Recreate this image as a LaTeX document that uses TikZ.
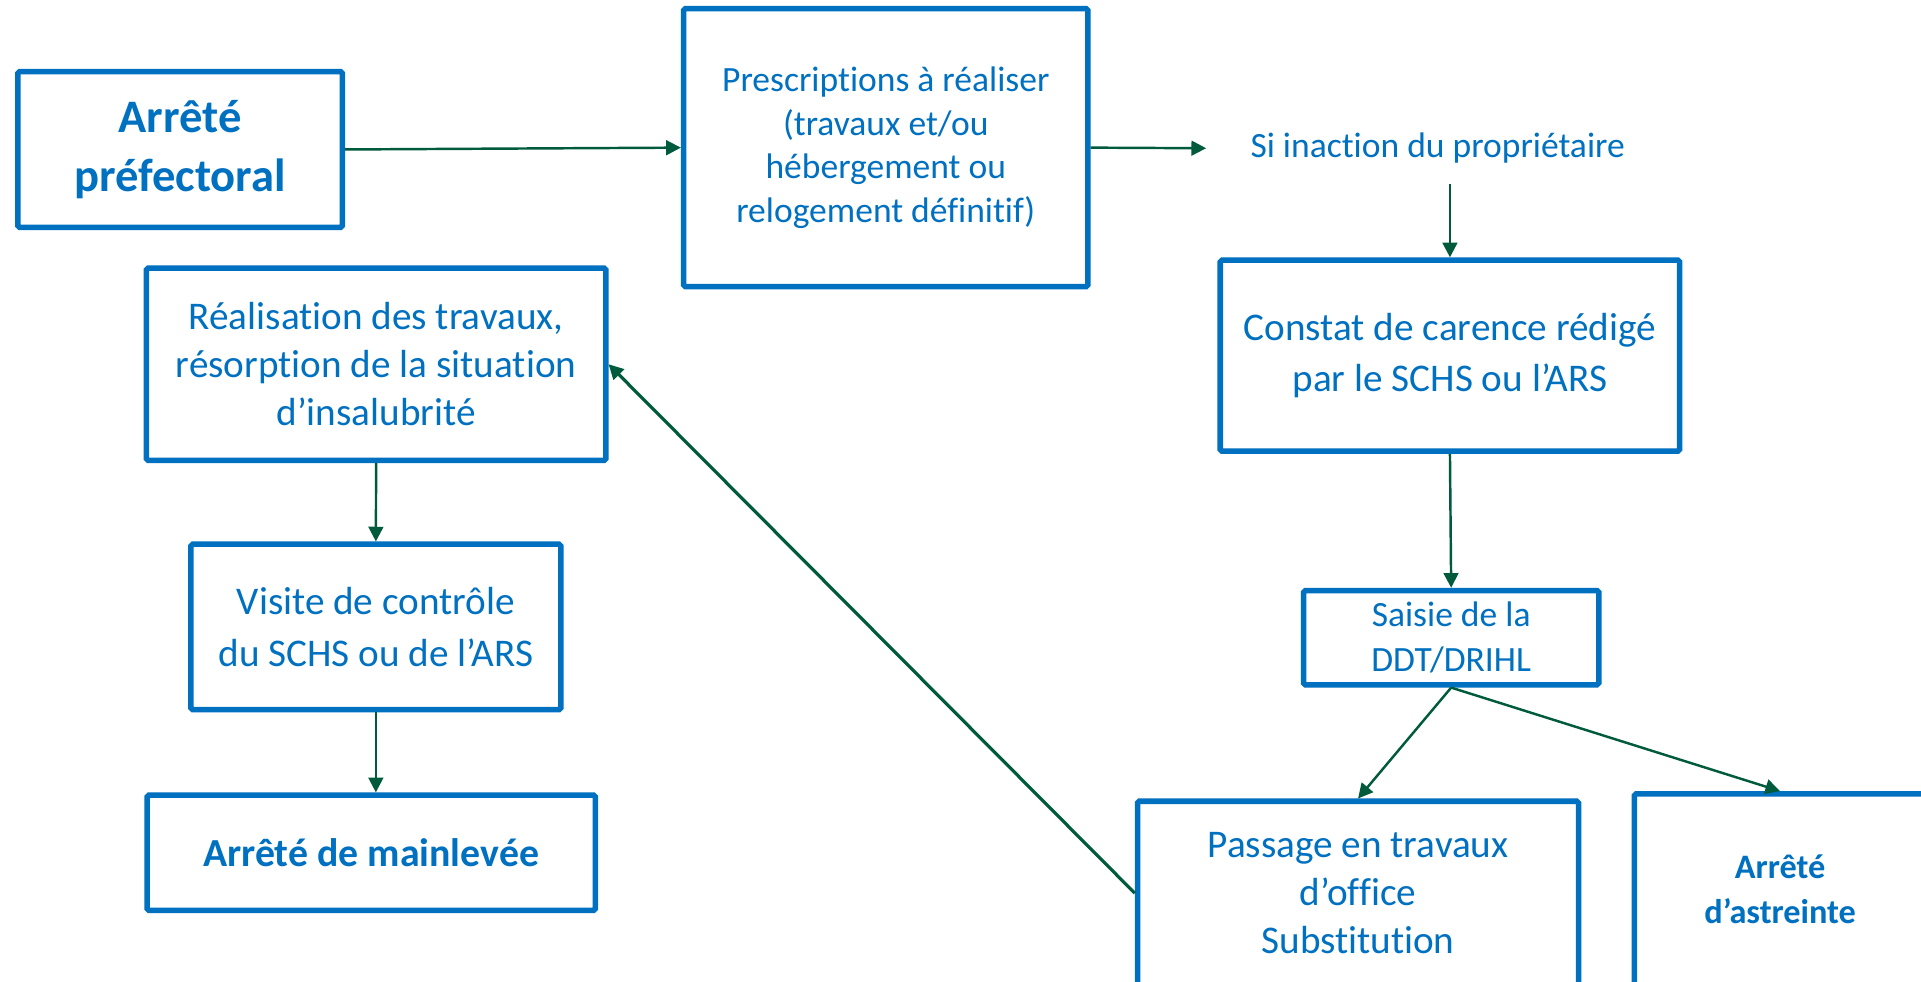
\documentclass[tikz,border=0pt]{standalone}
\usepackage{fontspec}
\setmainfont{Carlito}[Ligatures=NoCommon]
\usetikzlibrary{arrows.meta}
\definecolor{bxblue}{HTML}{0070C0}
\definecolor{argreen}{HTML}{005A3C}
\begin{document}
\begin{tikzpicture}[x=1pt,y=-1pt,
  box/.style={draw=bxblue, line width=4.5pt, rounded corners=1.5pt, text=bxblue, align=center, inner sep=0pt, fill=white},
  plain/.style={text=bxblue, align=center, inner sep=0pt},
  link/.style={draw=argreen, line width=2pt, -{Triangle[length=12pt,width=12pt]}},
  f29/.style={font=\fontsize{29}{35.5}\selectfont},
  f32/.style={font=\fontsize{32}{39.5}\selectfont},
  fb38/.style={font=\fontsize{38}{48}\selectfont\bfseries},
  fb32/.style={font=\fontsize{32.5}{40}\selectfont\bfseries},
  fb28/.style={font=\fontsize{28}{36.5}\selectfont\bfseries}]
\fill[white] (0,0) rectangle (1568,801);
\clip (0,0) rectangle (1568,801);

\node[box, fb38, minimum width=265pt, minimum height=127pt] (arrete) at (147,122) {Arrêté\\préfectoral};
\node[box, f29, minimum width=330pt, minimum height=227pt] (presc) at (723,120.5) {Prescriptions à réaliser\\(travaux et/ou\\hébergement ou\\relogement définitif)};
\node[plain, f29, inner xsep=36pt, minimum height=58pt] (si) at (1173.5,121) {Si inaction du propriétaire};
\node[box, minimum width=375pt, minimum height=156pt, font=\fontsize{32}{42}\selectfont] (constat) at (1183.5,290.3) {Constat de carence rédigé\\par le SCHS ou l’ARS};
\node[box, minimum width=241pt, minimum height=77pt, font=\fontsize{29}{37}\selectfont] (saisie) at (1184.5,520.5) {Saisie de la\\DDT/DRIHL};
\node[box, f32, minimum width=360pt, minimum height=150pt] (passage) at (1108.5,729) {Passage en travaux\\d’office\\Substitution};
\node[box, fb28, minimum width=238pt, minimum height=156pt] (astreinte) at (1453,726) {Arrêté\\d’astreinte};
\node[box, minimum width=375pt, minimum height=157pt, font=\fontsize{32}{39}\selectfont] (realisation) at (307,297.3) {Réalisation des travaux,\\résorption de la situation\\d’insalubrité};
\node[box, minimum width=302pt, minimum height=135pt, font=\fontsize{32}{42.5}\selectfont] (visite) at (306.8,511.7) {Visite de contrôle\\du SCHS ou de l’ARS};
\node[box, fb32, minimum width=366pt, minimum height=94pt] (mainlevee) at (303,696) {Arrêté de mainlevée};

\draw[link] (arrete.east) -- (presc.west);
\draw[link] (presc.east) -- (si.west);
\draw[link] (si.south -| constat.north) -- (constat.north);
\draw[link] (constat.south) -- (saisie.north);
\draw[link] (saisie.south) -- (passage.north);
\draw[link] (saisie.south) -- (astreinte.north);
\draw[link] (realisation.south) -- (visite.north);
\draw[link] (visite.south) -- (visite.south |- mainlevee.north);
\draw[link, line width=2.6pt] (passage.west) -- (realisation.east);
\end{tikzpicture}
\end{document}
